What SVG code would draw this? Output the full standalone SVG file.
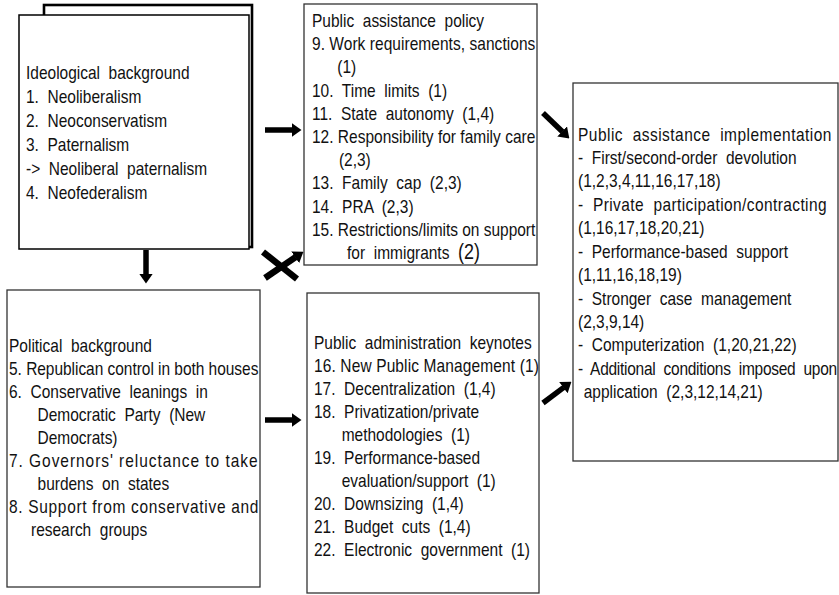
<svg xmlns="http://www.w3.org/2000/svg" width="839" height="595" viewBox="0 0 839 595">
<style>
.box{fill:#fff;stroke:#333;stroke-width:1.3}
.back{fill:#fff;stroke:#000;stroke-width:2.6}
.front{fill:#fff;stroke:#000;stroke-width:1.5}
text{font-family:"Liberation Sans",Arial,sans-serif;font-size:19px;fill:#111;white-space:pre}
.arr{stroke:#000;stroke-width:5.5;fill:none;stroke-linecap:butt}
</style>
<defs>
<marker id="ah" markerUnits="userSpaceOnUse" markerWidth="10" markerHeight="14" viewBox="0 0 10 14" refX="0.5" refY="7" orient="auto"><path d="M0,0 L10,7 L0,14 z" fill="#000"/></marker>
</defs>
<g id="ideological">
<rect class="back" x="44" y="5" width="208" height="242"/>
<rect class="front" x="19" y="15" width="230" height="234"/>
<g transform="translate(26 0) scale(0.815 1)">
<text x="0" y="79">Ideological  background</text>
<text x="0" y="103">1.  Neoliberalism</text>
<text x="0" y="127">2.  Neoconservatism</text>
<text x="0" y="151">3.  Paternalism</text>
<text x="0" y="175">->  Neoliberal  paternalism</text>
<text x="0" y="199">4.  Neofederalism</text>
</g>
</g>
<g id="policy">
<rect class="box" x="304" y="4" width="233" height="261"/>
<g transform="translate(312 0) scale(0.815 1)">
<text x="0" y="27">Public  assistance  policy</text>
<text x="0" y="50" textLength="274" lengthAdjust="spacing">9. Work requirements, sanctions</text>
<text x="31" y="73">(1)</text>
<text x="0" y="97">10.  Time  limits  (1)</text>
<text x="0" y="120">11.  State  autonomy  (1,4)</text>
<text x="0" y="143" textLength="274" lengthAdjust="spacing">12. Responsibility for family care</text>
<text x="33" y="166">(2,3)</text>
<text x="0" y="189">13.  Family  cap  (2,3)</text>
<text x="0" y="213">14.  PRA  (2,3)</text>
<text x="0" y="236" textLength="274" lengthAdjust="spacing">15. Restrictions/limits on support</text>
<text x="43" y="259">for  immigrants  <tspan style="font-size:22px">(2)</tspan></text>
</g>
</g>
<g id="implementation">
<rect class="box" x="573" y="83" width="265" height="378"/>
<g transform="translate(578 0) scale(0.815 1)">
<text x="0" y="141" textLength="311" lengthAdjust="spacing">Public  assistance  implementation</text>
<text x="0" y="164">-  First/second-order  devolution</text>
<text x="0" y="187">(1,2,3,4,11,16,17,18)</text>
<text x="0" y="211" textLength="305" lengthAdjust="spacing">-  Private  participation/contracting</text>
<text x="0" y="234">(1,16,17,18,20,21)</text>
<text x="0" y="258">-  Performance-based  support</text>
<text x="0" y="281">(1,11,16,18,19)</text>
<text x="0" y="305">-  Stronger  case  management</text>
<text x="0" y="328">(2,3,9,14)</text>
<text x="0" y="351">-  Computerization  (1,20,21,22)</text>
<text x="0" y="375" textLength="318" lengthAdjust="spacing">-  Additional  conditions  imposed  upon</text>
<text x="7" y="398">application  (2,3,12,14,21)</text>
</g>
</g>
<g id="political">
<rect class="box" x="7" y="290" width="253" height="297"/>
<g transform="translate(9 0) scale(0.815 1)">
<text x="0" y="352">Political  background</text>
<text x="0" y="375" textLength="306" lengthAdjust="spacing">5. Republican control in both houses</text>
<text x="0" y="398">6.  Conservative  leanings  in</text>
<text x="35" y="421">Democratic  Party  (New</text>
<text x="35" y="444">Democrats)</text>
<text x="0" y="467" textLength="305" lengthAdjust="spacing">7. Governors' reluctance to take</text>
<text x="35" y="490">burdens  on  states</text>
<text x="0" y="513" textLength="306" lengthAdjust="spacing">8. Support from conservative and</text>
<text x="27" y="536">research  groups</text>
</g>
</g>
<g id="keynotes">
<rect class="box" x="307" y="293" width="232" height="300"/>
<g transform="translate(314 0) scale(0.815 1)">
<text x="0" y="349">Public  administration  keynotes</text>
<text x="0" y="372" textLength="276" lengthAdjust="spacing">16. New Public Management (1)</text>
<text x="0" y="395">17.  Decentralization  (1,4)</text>
<text x="0" y="418">18.  Privatization/private</text>
<text x="34" y="441">methodologies  (1)</text>
<text x="0" y="464">19.  Performance-based</text>
<text x="34" y="487">evaluation/support  (1)</text>
<text x="0" y="510">20.  Downsizing  (1,4)</text>
<text x="0" y="533">21.  Budget  cuts  (1,4)</text>
<text x="0" y="556">22.  Electronic  government  (1)</text>
</g>
</g>
<g id="connectors">
<line class="arr" x1="265" y1="130" x2="292" y2="130" marker-end="url(#ah)"/>
<line class="arr" x1="146" y1="250" x2="146" y2="274" marker-end="url(#ah)"/>
<line class="arr" x1="265" y1="420" x2="292" y2="420" marker-end="url(#ah)"/>
<line class="arr" x1="543" y1="113" x2="562.5" y2="131.8" marker-end="url(#ah)"/>
<line class="arr" x1="543" y1="403" x2="563.8" y2="387.4" marker-end="url(#ah)"/>
<line class="arr" x1="263" y1="252" x2="297" y2="279" style="stroke-width:6.5"/>
<line class="arr" x1="265" y1="278" x2="295.6" y2="257.1" style="stroke-width:6.5" marker-end="url(#ah)"/>
</g>
</svg>
